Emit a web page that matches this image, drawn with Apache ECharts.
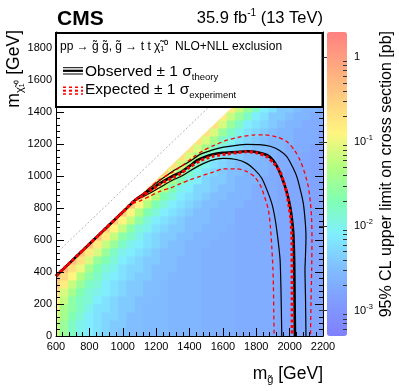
<!DOCTYPE html>
<html><head><meta charset="utf-8">
<script src="https://cdn.jsdelivr.net/npm/echarts@6/dist/echarts.min.js"></script>
<style>html,body{margin:0;padding:0;background:#fff}#c{width:399px;height:391px}</style>
</head><body><div id="c"></div>
<script>
// ---- grid of the scan (cell centres, GeV) ----
const mGluino = [600,650,700,750,800,850,900,950,1000,1050,1100,1150,1200,1250,1300,1350,1400,1450,1500,1550,1600,1650,1700,1750,1800,1850,1900,1950,2000,2050,2100,2150,2200];
const mChi = [25,75,125,175,225,275,325,375,425,475,525,575,625,675,725,775,825,875,925,975,1025,1075,1125,1175,1225,1275,1325,1375,1425];
// 95% CL upper limit, stored as 10*log10(sigma/pb); one row per mChi, one column per mGluino
const n = null;
const limitRows = [
[-12,-15,-18,-20,-21,-22,-23,-24,-24.5,-25,-25,-25.5,-25.5,-25.5,-26,-26,-26,-26,-26.5,-26.5,-26.5,-26.5,-27,-27,-27,-27,-27,-27.5,-27.5,-27.5,-27.5,-28,-28],
[-12,-15,-18,-20,-21,-22,-23,-24,-24,-25,-25,-25.5,-25.5,-25.5,-26,-26,-26,-26,-26.5,-26.5,-26.5,-26.5,-27,-27,-27,-27,-27,-27.5,-27.5,-27.5,-27.5,-28,-28],
[-11,-14,-17,-19,-21,-22,-23,-23,-24,-25,-25,-25.5,-25.5,-25.5,-26,-26,-26,-26,-26.5,-26.5,-26.5,-26.5,-27,-27,-27,-27,-27,-27.5,-27.5,-27.5,-27.5,-28,-28],
[-10,-14,-16,-18,-20,-22,-22,-23,-24,-24,-25,-25.5,-25.5,-25.5,-26,-26,-26,-26,-26.5,-26.5,-26.5,-26.5,-27,-27,-27,-27,-27,-27.5,-27.5,-27.5,-27.5,-28,-28],
[-9,-12,-16,-18,-19,-21,-22,-23,-24,-24,-25,-25,-25.5,-25.5,-26,-26,-26,-26,-26.5,-26.5,-26.5,-26.5,-27,-27,-27,-27,-27,-27.5,-27.5,-27.5,-27.5,-28,-28],
[-7,-11,-14,-17,-19,-20,-21,-22,-23,-24,-24,-25,-25,-25.5,-26,-26,-26,-26,-26.5,-26.5,-26.5,-26.5,-27,-27,-27,-27,-27,-27.5,-27.5,-27.5,-27.5,-28,-28],
[-5,-8,-12,-15,-18,-19,-21,-22,-23,-24,-24,-25,-25,-25.5,-26,-26,-26,-26,-26.5,-26.5,-26.5,-26.5,-27,-27,-27,-27,-27,-27.5,-27.5,-27.5,-27.5,-28,-28],
[-3,-6,-9,-13,-16,-18,-20,-21,-22,-23,-24,-24,-25,-25,-26,-26,-26,-26,-26.5,-26.5,-26.5,-26.5,-27,-27,-27,-27,-27,-27.5,-27.5,-27.5,-27.5,-28,-28],
[n,-3,-7,-10,-14,-17,-19,-20,-22,-23,-23,-24,-25,-25,-25,-26,-26,-26,-26.5,-26.5,-26.5,-26.5,-27,-27,-27,-27,-27,-27.5,-27.5,-27.5,-27.5,-28,-28],
[n,n,-4,-7,-11,-15,-17,-19,-21,-22,-23,-24,-24,-25,-25,-26,-26,-26,-26.5,-26.5,-26.5,-26.5,-27,-27,-27,-27,-27,-27.5,-27.5,-27.5,-27.5,-28,-28],
[n,n,n,-4,-8,-11,-15,-18,-20,-21,-22,-23,-24,-25,-25,-25,-26,-26,-26.5,-26.5,-26.5,-26.5,-27,-27,-27,-27,-27,-27.5,-27.5,-27.5,-27.5,-28,-28],
[n,n,n,n,-4,-8,-12,-15,-18,-20,-21,-22,-23,-24,-25,-25,-26,-26,-26,-26.5,-26.5,-26.5,-27,-27,-27,-27,-27,-27.5,-27.5,-27.5,-27.5,-28,-28],
[n,n,n,n,n,-4,-8,-12,-16,-18,-20,-22,-23,-24,-24,-25,-25,-26,-26,-26,-26.5,-26.5,-27,-27,-27,-27,-27,-27.5,-27.5,-27.5,-27.5,-28,-28],
[n,n,n,n,n,n,-5,-9,-12,-16,-19,-20,-22,-23,-24,-24,-25,-25,-26,-26,-26,-26.5,-27,-27,-27,-27,-27,-27.5,-27.5,-27.5,-27.5,-28,-28],
[n,n,n,n,n,n,n,-5,-9,-12,-16,-19,-21,-22,-23,-24,-25,-25,-25,-26,-26,-26,-27,-27,-27,-27,-27,-27.5,-27.5,-27.5,-27.5,-28,-28],
[n,n,n,n,n,n,n,n,-5,-9,-13,-17,-19,-21,-22,-23,-24,-25,-25,-26,-26,-26,-27,-27,-27,-27,-27,-27.5,-27.5,-27.5,-27.5,-28,-28],
[n,n,n,n,n,n,n,n,n,-5,-9,-13,-17,-19,-21,-22,-23,-24,-25,-25,-26,-26,-26,-27,-27,-27,-27,-27.5,-27.5,-27.5,-27.5,-28,-28],
[n,n,n,n,n,n,n,n,n,n,-6,-10,-13,-17,-19,-21,-22,-23,-24,-25,-25,-26,-26,-26,-27,-27,-27,-27.5,-27.5,-27.5,-27.5,-28,-28],
[n,n,n,n,n,n,n,n,n,n,n,-6,-10,-13,-17,-20,-21,-23,-23,-24,-25,-25,-26,-26,-27,-27,-27,-27.5,-27.5,-27.5,-27.5,-28,-28],
[n,n,n,n,n,n,n,n,n,n,n,n,-6,-10,-14,-17,-20,-21,-23,-24,-24,-25,-26,-26,-26,-27,-27,-27.5,-27.5,-27.5,-27.5,-28,-28],
[n,n,n,n,n,n,n,n,n,n,n,n,n,-6,-10,-14,-18,-20,-22,-23,-24,-25,-25,-26,-26,-26,-27,-27,-27.5,-27.5,-27.5,-28,-28],
[n,n,n,n,n,n,n,n,n,n,n,n,n,n,-7,-11,-14,-18,-20,-22,-23,-24,-25,-25,-26,-26,-27,-27,-27,-27.5,-27.5,-28,-28],
[n,n,n,n,n,n,n,n,n,n,n,n,n,n,n,-7,-11,-14,-18,-20,-22,-23,-24,-25,-25,-26,-26,-27,-27,-27,-27.5,-28,-28],
[n,n,n,n,n,n,n,n,n,n,n,n,n,n,n,n,-7,-11,-14,-18,-20,-22,-23,-24,-25,-25,-26,-26,-27,-27,-27,-28,-28],
[n,n,n,n,n,n,n,n,n,n,n,n,n,n,n,n,n,-7,-11,-14,-18,-20,-22,-23,-24,-25,-26,-26,-26,-27,-27,-27,-28],
[n,n,n,n,n,n,n,n,n,n,n,n,n,n,n,n,n,n,-7,-11,-15,-18,-20,-22,-23,-24,-25,-26,-26,-27,-27,-27,-28],
[n,n,n,n,n,n,n,n,n,n,n,n,n,n,n,n,n,n,n,-7,-11,-15,-18,-21,-22,-23,-24,-25,-26,-26,-27,-27,-27],
[n,n,n,n,n,n,n,n,n,n,n,n,n,n,n,n,n,n,n,n,-8,-12,-15,-18,-21,-22,-24,-24,-25,-26,-26,-27,-27],
[n,n,n,n,n,n,n,n,n,n,n,n,n,n,n,n,n,n,n,n,n,-8,-12,-15,-18,-21,-22,-24,-24,-25,-26,-26,-27]
];
// ---- exclusion contours [mGluino, mChi] ----
const observed = [[600,375],[700,475],[800,575],[900,675],[1000,775],[1075,850],[1125,886],[1175,920],[1225,955],[1300,1000],[1350,1025],[1400,1062],[1450,1100],[1500,1122],[1550,1137],[1600,1145],[1680,1150],[1743,1155],[1800,1150],[1863,1131],[1900,1100],[1925,1058],[1950,1000],[1973,933],[1990,870],[2003,808],[2015,720],[2022,640],[2026,520],[2028,410],[2030,200],[2032,0]];
const observedUp = [[600,375],[700,475],[800,575],[900,675],[1000,775],[1075,850],[1125,892],[1175,935],[1225,975],[1300,1030],[1400,1090],[1464,1135],[1544,1165],[1604,1180],[1680,1192],[1743,1198],[1820,1196],[1883,1186],[1940,1160],[1983,1121],[2015,1062],[2043,996],[2065,910],[2082,829],[2093,720],[2098,621],[2095,500],[2092,412],[2095,250],[2098,0]];
const observedDown = [[600,375],[700,475],[800,575],[900,675],[1000,775],[1075,848],[1125,872],[1175,900],[1225,930],[1300,975],[1350,998],[1400,1030],[1464,1068],[1530,1098],[1604,1110],[1680,1103],[1743,1079],[1790,1040],[1833,986],[1865,910],[1893,829],[1910,750],[1923,662],[1935,560],[1943,475],[1948,300],[1953,0]];
const expected = [[600,375],[700,475],[800,575],[900,675],[1000,775],[1075,850],[1125,880],[1175,915],[1225,950],[1300,990],[1350,1018],[1400,1055],[1464,1095],[1544,1125],[1624,1137],[1690,1147],[1743,1152],[1800,1145],[1863,1121],[1905,1080],[1943,1027],[1965,960],[1983,892],[1998,800],[2008,725],[2013,620],[2014,517],[2015,300],[2015,0]];
const expectedUp = [[600,375],[700,475],[800,575],[900,675],[1000,775],[1050,825],[1100,870],[1165,930],[1225,980],[1285,1015],[1350,1060],[1424,1118],[1480,1158],[1544,1190],[1620,1222],[1704,1244],[1780,1256],[1843,1257],[1920,1245],[1983,1215],[2030,1160],[2062,1100],[2090,1020],[2112,933],[2125,830],[2132,725],[2134,600],[2132,412],[2128,200],[2125,0]];
const expectedDown = [[600,375],[700,475],[800,575],[900,675],[1000,775],[1050,822],[1105,845],[1165,875],[1225,905],[1285,925],[1345,952],[1400,975],[1464,998],[1544,1025],[1604,1045],[1680,1045],[1743,1028],[1790,995],[1823,945],[1850,870],[1873,787],[1885,680],[1893,558],[1900,420],[1903,308],[1905,150],[1907,0]];
const diagonalGuide = [[600,515],[1700,1615]];
// ---- axes / colour scale ----
const xTicks = {min:600, max:2200, step:200};
const yTicks = {min:0, max:1900, step:200};
const zRange = {min:-33, max:3};             // 10*log10(pb): 5e-4 .. 2 pb
const zMajorPb = [0.001, 0.01, 0.1, 1];
const zMinorPb = [0.0006,0.0007,0.0008,0.0009,0.002,0.003,0.004,0.005,0.006,0.007,0.008,0.009,0.02,0.03,0.04,0.05,0.06,0.07,0.08,0.09,0.2,0.3,0.4,0.5,0.6,0.7,0.8,0.9,2];
const kinematicGap = 225, halfCell = 25;

const palette = ['#8080ff','#809bff','#80beff','#80eeff','#80ffb3','#b3ff80','#fff580','#ffcf80','#ffa780','#ff8080'];
const FONT = "'Liberation Sans', Arial, Helvetica, sans-serif";
const toCode = v => 10 * Math.log10(v);

const heatData = [];
limitRows.forEach((row, i) => row.forEach((v, j) => { if (v !== null) heatData.push([mGluino[j], mChi[i], v]); }));

function renderCell(params, api) {
  const mg = api.value(0), mc = api.value(1);
  const bl = api.coord([mg - halfCell, mc - halfCell]);
  const tr = api.coord([mg + halfCell, mc + halfCell]);
  const fill = api.visual('color');
  if (mc + kinematicGap >= mg) {
    return {type:'polygon', shape:{points:[[bl[0]-0.4, bl[1]+0.4],[tr[0]+0.4, bl[1]+0.4],[tr[0]+0.4, tr[1]-0.4]]}, style:{fill: fill}};
  }
  return {type:'rect', shape:{x:bl[0]-0.4, y:tr[1]-0.4, width:tr[0]-bl[0]+0.8, height:bl[1]-tr[1]+0.8}, style:{fill: fill}};
}

const axisCommon = {
  z: 10,
  axisLine: {show:true, onZero:false, lineStyle:{color:'#000', width:1}},
  axisTick: {show:true, inside:true, length:8, lineStyle:{color:'#000', width:1}},
  minorTick: {show:true, splitNumber:5, length:4, lineStyle:{color:'#000', width:1}},
  splitLine: {show:false}, minorSplitLine: {show:false}
};
const plain = v => String(Math.round(v));
function lineSeries(data, color, width, dash, z) {
  return {type:'line', xAxisIndex:0, yAxisIndex:0, data:data, symbol:'none', showSymbol:false, smooth:0.25, clip:true, silent:true, z:z,
    lineStyle:{color:color, width:width, type:dash || 'solid'}};
}

const chart = echarts.init(document.getElementById('c'), null, {renderer:'canvas'});
chart.setOption({
  animation: false,
  backgroundColor: '#fff',
  grid: [
    {left:56, top:32, width:267, height:304, containLabel:false, outerBoundsMode:'none'},
    {left:327, top:32, width:20, height:304, containLabel:false, outerBoundsMode:'none'}
  ],
  xAxis: [
    Object.assign({gridIndex:0, type:'value', min:xTicks.min, max:xTicks.max, interval:xTicks.step,
      axisLabel:{color:'#000', fontSize:11, fontFamily:FONT, margin:5, formatter:plain}}, axisCommon),
    {gridIndex:1, type:'value', min:0, max:1, show:false}
  ],
  yAxis: [
    Object.assign({gridIndex:0, type:'value', min:yTicks.min, max:yTicks.max, interval:yTicks.step,
      axisLabel:{color:'#000', fontSize:11, fontFamily:FONT, margin:4, showMaxLabel:false, formatter:plain}}, axisCommon),
    Object.assign({gridIndex:0, type:'value', position:'right', min:yTicks.min, max:yTicks.max, interval:yTicks.step,
      axisLabel:{show:false}}, axisCommon),
    {gridIndex:1, type:'value', position:'right', min:zRange.min, max:zRange.max, z:10,
      axisLine:{show:false}, splitLine:{show:false},
      axisTick:{show:true, inside:true, length:8, customValues: zMajorPb.map(toCode), lineStyle:{color:'#333'}},
      axisLabel:{show:true, margin:7, customValues: zMajorPb.map(toCode),
        formatter: v => Math.round(v) === 0 ? '{b|1}' : '{b|10}{s|' + Math.round(v / 10) + '}',
        rich:{b:{fontSize:11, fontFamily:FONT, color:'#000', lineHeight:16, verticalAlign:'middle'},
              s:{fontSize:7.5, fontFamily:FONT, color:'#000', lineHeight:9, verticalAlign:'top'}}}},
    {gridIndex:1, type:'value', position:'right', min:zRange.min, max:zRange.max, z:10,
      axisLine:{show:false}, splitLine:{show:false}, axisLabel:{show:false},
      axisTick:{show:true, inside:true, length:4, customValues: zMinorPb.map(toCode), lineStyle:{color:'#333'}}}
  ],
  visualMap: {
    type:'continuous', seriesIndex:0, dimension:2, min:zRange.min, max:zRange.max,
    inRange:{color: palette}, orient:'vertical', left:327, top:32, itemWidth:20, itemHeight:304,
    calculable:false, hoverLink:false, padding:0, text:null, realtime:false
  },
  series: [
    {type:'custom', xAxisIndex:0, yAxisIndex:0, data:heatData, encode:{x:0, y:1}, renderItem:renderCell, clip:true, silent:true, z:1},
    lineSeries(diagonalGuide, '#b4b4b4', 1, [2,2], 2),
    lineSeries(observedUp, '#000', 1.2, null, 3),
    lineSeries(observedDown, '#000', 1.2, null, 3),
    lineSeries(observed, '#000', 2.6, null, 4),
    lineSeries(expectedUp, '#ff0000', 1.3, [4,3], 5),
    lineSeries(expectedDown, '#ff0000', 1.3, [4,3], 5),
    lineSeries(expected, '#ff0000', 3, [3,2.5], 6)
  ],
  graphic: {elements: [
    {type:'rect', z:100, shape:{x:56, y:33, width:266.5, height:74}, style:{fill:'#fff', stroke:'#000', lineWidth:2}},
    {type:'text', z:101, x:60, y:47, style:{text:'pp → g̃ g̃, g̃ → t t χ̃₁⁰  NLO+NLL exclusion', font:'12px ' + FONT, fill:'#000', align:'left', verticalAlign:'middle'}},
    {type:'line', z:101, shape:{x1:63, y1:67.7, x2:83, y2:67.7}, style:{stroke:'#000', lineWidth:1}},
    {type:'line', z:101, shape:{x1:63, y1:70.8, x2:83, y2:70.8}, style:{stroke:'#000', lineWidth:2.2}},
    {type:'line', z:101, shape:{x1:63, y1:74, x2:83, y2:74}, style:{stroke:'#000', lineWidth:1}},
    {type:'line', z:101, shape:{x1:63, y1:87.3, x2:83, y2:87.3}, style:{stroke:'#ff0000', lineWidth:1.5, lineDash:[3,3]}},
    {type:'line', z:101, shape:{x1:63, y1:90.7, x2:83, y2:90.7}, style:{stroke:'#ff0000', lineWidth:2, lineDash:[3,3]}},
    {type:'line', z:101, shape:{x1:63, y1:94, x2:83, y2:94}, style:{stroke:'#ff0000', lineWidth:1.5, lineDash:[3,3]}},
    {type:'text', z:101, x:85, y:72, style:{text:'Observed ± 1 σ{s|theory}', font:'15.5px ' + FONT, fill:'#000', align:'left', verticalAlign:'middle', lineHeight:20,
      rich:{s:{fontSize:9.5, fontFamily:FONT, fill:'#000', verticalAlign:'bottom', lineHeight:12}}}},
    {type:'text', z:101, x:85, y:90, style:{text:'Expected ± 1 σ{s|experiment}', font:'15.5px ' + FONT, fill:'#000', align:'left', verticalAlign:'middle', lineHeight:20,
      rich:{s:{fontSize:9.5, fontFamily:FONT, fill:'#000', verticalAlign:'bottom', lineHeight:12}}}},
    {type:'text', z:101, x:57, y:19, style:{text:'CMS', font:'bold 21px ' + FONT, fill:'#000', align:'left', verticalAlign:'middle'}},
    {type:'text', z:101, x:323, y:18, style:{text:'35.9 fb{s|-1} (13 TeV)', font:'16.5px ' + FONT, fill:'#000', align:'right', verticalAlign:'middle', lineHeight:20,
      rich:{s:{fontSize:10, fontFamily:FONT, fill:'#000', verticalAlign:'top', lineHeight:12}}}},
    {type:'text', z:101, x:323, y:374, style:{text:'m{s|g̃} [GeV]', font:'17.5px ' + FONT, fill:'#000', align:'right', verticalAlign:'middle', lineHeight:22,
      rich:{s:{fontSize:11, fontFamily:FONT, fill:'#000', verticalAlign:'bottom', lineHeight:13}}}},
    {type:'text', z:101, x:14, y:30, rotation:Math.PI/2, style:{text:'m{s|χ̃₁⁰} [GeV]', font:'17.5px ' + FONT, fill:'#000', align:'right', verticalAlign:'middle', lineHeight:22,
      rich:{s:{fontSize:11, fontFamily:FONT, fill:'#000', verticalAlign:'bottom', lineHeight:13}}}},
    {type:'text', z:101, x:387, y:31, rotation:Math.PI/2, style:{text:'95% CL upper limit on cross section [pb]', font:'16px ' + FONT, fill:'#000', align:'right', verticalAlign:'middle'}}
  ]}
});
</script>
</body></html>
